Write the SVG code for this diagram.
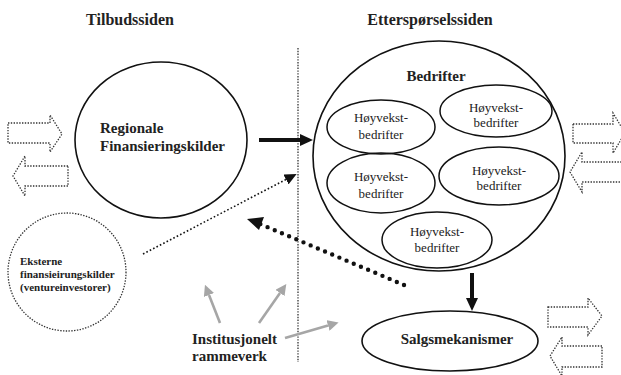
<svg xmlns="http://www.w3.org/2000/svg" width="621" height="375" viewBox="0 0 621 375">
<defs>
<style>
text{font-family:'Liberation Serif','Times New Roman','DejaVu Serif',serif;fill:#222}
.b{font-weight:bold}
.shape{fill:none;stroke:#111;stroke-width:1.6}
.inner{fill:none;stroke:#111;stroke-width:1.5}
.dot{fill:none;stroke:#333;stroke-width:1.3;stroke-dasharray:1.4 1.4}
.thick{stroke:#111;stroke-width:4;fill:none}
.gray{stroke:#a6a6a6;stroke-width:2.6;fill:none}
</style>
<marker id="hb" markerUnits="userSpaceOnUse" markerWidth="13" markerHeight="12" viewBox="0 0 13 12" refX="0" refY="6" orient="auto"><path d="M0,0 L13,6 L0,12 Z" fill="#111"/></marker>
<marker id="hs" markerUnits="userSpaceOnUse" markerWidth="12" markerHeight="11" viewBox="0 0 12 11" refX="0" refY="5.5" orient="auto"><path d="M0,0 L12,5.5 L0,11 Z" fill="#111"/></marker>
<marker id="hg" markerUnits="userSpaceOnUse" markerWidth="11" markerHeight="11" viewBox="0 0 11 11" refX="0" refY="5.5" orient="auto"><path d="M0,0 L11,5.5 L0,11 Z" fill="#a6a6a6"/></marker>
</defs>
<rect width="621" height="375" fill="#fff"/>

<g id="titles" font-family="Liberation Serif, serif">
<text class="b" x="130" y="25" font-size="16" text-anchor="middle">Tilbudssiden</text>
<text class="b" x="430" y="25" font-size="16" text-anchor="middle">Etterspørselssiden</text>
</g>

<g id="divider"><line class="dot" x1="298" y1="48" x2="298" y2="362"/></g>

<g id="regionale">
<ellipse class="shape" cx="161" cy="140" rx="86" ry="78"/>
<text class="b" x="100" y="133" font-size="15">Regionale</text>
<text class="b" x="100" y="151" font-size="15">Finansieringskilder</text>
</g>

<g id="eksterne">
<circle class="dot" cx="67" cy="272" r="59"/>
<text class="b" x="20" y="265" font-size="11">Eksterne</text>
<text class="b" x="20" y="278" font-size="11">finansieirungskilder</text>
<text class="b" x="20" y="291" font-size="11">(ventureinvestorer)</text>
</g>

<g id="bedrifter">
<ellipse class="shape" cx="439" cy="156" rx="126" ry="115"/>
<text class="b" x="436" y="81" font-size="15" text-anchor="middle">Bedrifter</text>
</g>

<g id="hv1">
<ellipse class="inner" cx="381" cy="127" rx="54" ry="27"/>
<text x="381" y="122" font-size="13" text-anchor="middle">Høyvekst-</text>
<text x="381" y="139" font-size="13" text-anchor="middle">bedrifter</text>
</g>
<g id="hv2">
<ellipse class="inner" cx="496" cy="111" rx="56" ry="26"/>
<text x="496" y="112" font-size="13" text-anchor="middle">Høyvekst-</text>
<text x="496" y="127" font-size="13" text-anchor="middle">bedrifter</text>
</g>
<g id="hv3">
<ellipse class="inner" cx="381" cy="183" rx="54" ry="30"/>
<text x="381" y="181" font-size="13" text-anchor="middle">Høyvekst-</text>
<text x="381" y="198" font-size="13" text-anchor="middle">bedrifter</text>
</g>
<g id="hv4">
<ellipse class="inner" cx="499" cy="176" rx="60" ry="29"/>
<text x="499" y="175" font-size="13" text-anchor="middle">Høyvekst-</text>
<text x="499" y="190" font-size="13" text-anchor="middle">bedrifter</text>
</g>
<g id="hv5">
<ellipse class="inner" cx="437" cy="240" rx="55" ry="28"/>
<text x="437" y="236" font-size="13" text-anchor="middle">Høyvekst-</text>
<text x="437" y="252" font-size="13" text-anchor="middle">bedrifter</text>
</g>

<g id="salgsmekanismer">
<ellipse class="shape" cx="450" cy="341" rx="88" ry="30"/>
<text class="b" x="457" y="344" font-size="15" text-anchor="middle">Salgsmekanismer</text>
</g>

<g id="institusjonelt">
<text class="b" x="192" y="344" font-size="15">Institusjonelt</text>
<text class="b" x="192" y="361" font-size="15">rammeverk</text>
</g>

<g id="flows">
<path class="dot" d="M8,123 H50 V115 L62,134 L50,152 V143 H8 Z"/>
<path class="dot" d="M68,166 H25 V156 L13,176 L25,196 V186 H68 Z"/>
<path class="dot" d="M573,124 H613 V113 L625,133 L613,153 V143 H573 Z"/>
<path class="dot" d="M630,162 H582 V152 L570,172 L582,192 V182 H630 Z"/>
<path class="dot" d="M548,307 H588 V298 L602,316 L588,335 V327 H548 Z"/>
<path class="dot" d="M602,346 H562 V337 L550,356 L562,376 V367 H602 Z"/>
</g>

<g id="connectors">
<line class="thick" x1="259" y1="140" x2="300" y2="140" marker-end="url(#hb)"/>
<line class="thick" x1="472" y1="273" x2="472" y2="298" marker-end="url(#hb)"/>
<line x1="143" y1="254" x2="286" y2="179.5" stroke="#111" stroke-width="1.6" stroke-dasharray="1.6 2.2" marker-end="url(#hs)"/>
<line x1="404" y1="285" x2="259" y2="223.5" stroke="#111" stroke-width="4.4" stroke-linecap="round" stroke-dasharray="0 7.8"/>
<path d="M259,230 L247,219 L264,217 Z" fill="#111"/>
<line class="gray" x1="220" y1="323" x2="209" y2="295" marker-end="url(#hg)"/>
<line class="gray" x1="259" y1="323" x2="280" y2="293" marker-end="url(#hg)"/>
<line class="gray" x1="285" y1="338" x2="328" y2="325.5" marker-end="url(#hg)"/>
</g>
</svg>
